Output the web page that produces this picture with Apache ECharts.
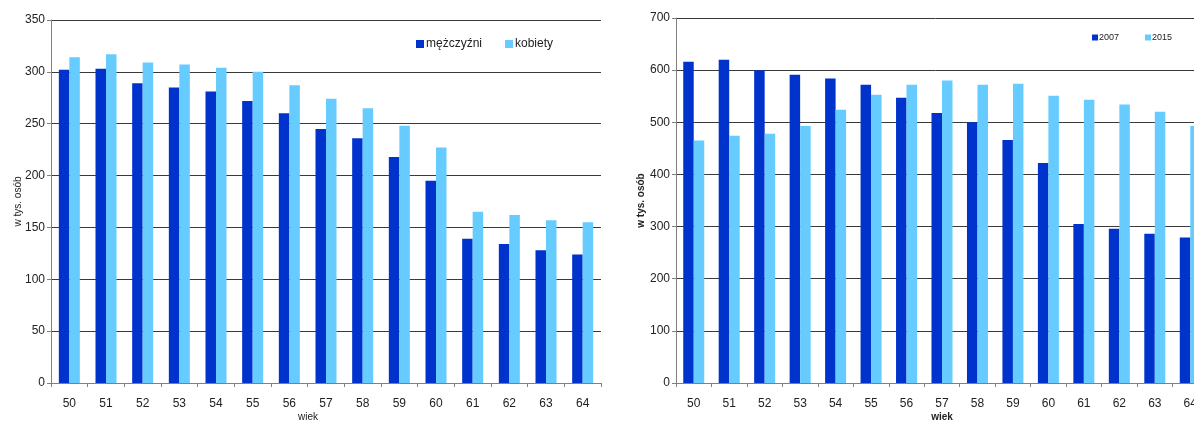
<!DOCTYPE html>
<html>
<head>
<meta charset="utf-8">
<script src="https://cdn.jsdelivr.net/npm/echarts@6/dist/echarts.min.js"></script>
<style>
  html, body { margin: 0; padding: 0; background: #fff; }
  #chart { width: 1194px; height: 421px; }
</style>
</head>
<body>
<div id="chart"></div>
<script>
// Age groups shared by both panels
const ages = ['50','51','52','53','54','55','56','57','58','59','60','61','62','63','64'];

// Left panel: population by sex (thousands)
const men   = [302, 303, 289, 285, 281, 272, 260, 245, 236, 218, 195, 139, 134, 128, 124];
const women = [314, 317, 309, 307, 304, 300, 287, 274, 265, 248, 227, 165, 162, 157, 155];

// Right panel: population by year (thousands)
const y2007 = [616, 620, 600, 591, 584, 572, 547, 518, 500, 466, 422, 305, 296, 286, 279];
const y2015 = [465, 474, 478, 493, 524, 553, 572, 580, 572, 574, 551, 543, 534, 520, 493];

const seriesNamesLeft = ['mężczyźni', 'kobiety'];
const seriesNamesRight = ['2007', '2015'];

const DARK = '#0033CC';
const LIGHT = '#66CCFF';
const FONT = '"Liberation Sans", Arial, sans-serif';

const chart = echarts.init(document.getElementById('chart'), null, { renderer: 'canvas' });

function yAxis(gridIndex, max, interval, bold, nameGap) {
  return {
    type: 'value', gridIndex, min: 0, max, interval,
    name: 'w tys. osób', nameLocation: 'middle', nameRotate: 90, nameGap,
    nameMoveOverlap: false,
    nameTextStyle: { fontFamily: FONT, fontSize: 10, color: '#222', fontWeight: bold ? 'bold' : 'normal' },
    axisLine: { show: true, lineStyle: { color: '#808080', width: 1 } },
    axisTick: { show: true, length: 4, lineStyle: { color: '#808080' } },
    axisLabel: { fontFamily: FONT, fontSize: 12, color: '#222', margin: 6 },
    splitLine: { show: true, lineStyle: { color: '#3a3a3a', width: 1 } }
  };
}

function xAxis(gridIndex, bold, padRight) {
  return {
    type: 'category', gridIndex, data: ages,
    name: 'wiek', nameLocation: 'middle', nameGap: 29,
    nameMoveOverlap: false,
    nameTextStyle: { fontFamily: FONT, fontSize: 10, color: '#222', fontWeight: bold ? 'bold' : 'normal',
                     padding: [0, padRight, 0, 0] },
    axisLine: { show: true, lineStyle: { color: '#808080', width: 1 } },
    axisTick: { show: true, length: 4, alignWithLabel: false, lineStyle: { color: '#808080' } },
    axisLabel: { fontFamily: FONT, fontSize: 12, color: '#222', margin: 15 },
    splitLine: { show: false }
  };
}

function bar(name, data, color, xi, yi) {
  return {
    name, type: 'bar', data, xAxisIndex: xi, yAxisIndex: yi,
    barWidth: 10.5, barGap: '0%',
    itemStyle: { color },
    emphasis: { disabled: true },
    animation: false
  };
}

chart.setOption({
  animation: false,
  backgroundColor: '#fff',
  grid: [
    { left: 51, top: 20, width: 550, height: 363, outerBoundsMode: 'none', containLabel: false },
    { left: 676, top: 18, width: 532, height: 365, outerBoundsMode: 'none', containLabel: false }
  ],
  xAxis: [xAxis(0, false, 36), xAxis(1, true, 0)],
  yAxis: [yAxis(0, 350, 50, false, 28), yAxis(1, 700, 100, true, 30)],
  legend: [
    {
      data: seriesNamesLeft, left: 416, top: 38, padding: 0,
      icon: 'rect', itemWidth: 8, itemHeight: 8, itemGap: 23,
      textStyle: { fontFamily: FONT, fontSize: 12, color: '#222', padding: [0, 0, 0, -3] },
      selectedMode: false
    },
    {
      data: seriesNamesRight, left: 1092, top: 33, padding: 0,
      icon: 'rect', itemWidth: 6, itemHeight: 6, itemGap: 26,
      textStyle: { fontFamily: FONT, fontSize: 9, color: '#222', padding: [0, 0, 0, -4] },
      selectedMode: false
    }
  ],
  series: [
    bar(seriesNamesLeft[0], men, DARK, 0, 0),
    bar(seriesNamesLeft[1], women, LIGHT, 0, 0),
    bar(seriesNamesRight[0], y2007, DARK, 1, 1),
    bar(seriesNamesRight[1], y2015, LIGHT, 1, 1)
  ]
});
</script>
</body>
</html>
